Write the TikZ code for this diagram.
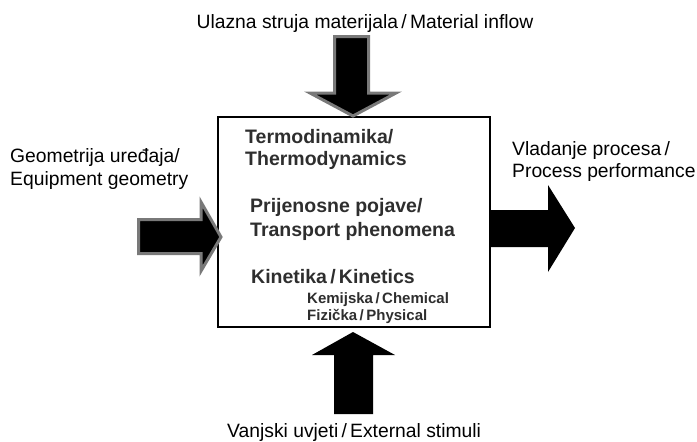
\documentclass[tikz,border=0pt]{standalone}
\usepackage{fontspec}
\setmainfont{Liberation Sans}
\begin{document}
\begin{tikzpicture}[x=1pt,y=-1pt,
  lbl/.style={inner sep=0pt,anchor=base west,font=\fontsize{19.3}{23}\selectfont,align=left},
  blbl/.style={inner sep=0pt,anchor=base west,text=black!82,font=\fontsize{19.5}{23}\selectfont\bfseries,align=left},
  slbl/.style={inner sep=0pt,anchor=base west,text=black!82,font=\fontsize{15}{17}\selectfont\bfseries},
  grayarrow/.style={fill=black,draw=gray!95!black,line width=3pt,line join=miter},
  blackarrow/.style={fill=black,draw=none}]
\useasboundingbox (0,0) rectangle (697,442);
% box
\draw[line width=2.6pt] (218,117) rectangle (490,327);
% top arrow (material inflow)
\draw[grayarrow] (334.5,36.5) -- (368.5,36.5) -- (368.5,93) -- (396,93) -- (353,116) -- (310,93) -- (334.5,93) -- cycle;
% left arrow (geometry)
\draw[grayarrow] (138.5,219.5) -- (201,219.5) -- (201,202) -- (221,237) -- (201,271) -- (201,253.5) -- (138.5,253.5) -- cycle;
% right arrow (performance)
\fill[blackarrow] (489,210) -- (548,210) -- (548,185) -- (575,228) -- (548,272) -- (548,247) -- (489,247) -- cycle;
% bottom arrow (external stimuli)
\fill[blackarrow] (334,414) -- (373,414) -- (373,355) -- (395,355) -- (353,332) -- (312,355) -- (334,355) -- cycle;
% texts
\node[lbl,anchor=base] (inflow) at (365,28) {Ulazna struja materijala\,/\,Material inflow};
\node[lbl] (geo1) at (10,162) {Geometrija uređaja/};
\node[lbl] (geo2) at (10,185) {Equipment geometry};
\node[lbl] (perf1) at (512,155) {Vladanje procesa\,/};
\node[lbl] (perf2) at (512,177) {Process performance};
\node[lbl] (stim) at (227,437) {Vanjski uvjeti\,/\,External stimuli};
\node[blbl] (thermo1) at (245,143) {Termodinamika/};
\node[blbl] (thermo2) at (245,165) {Thermodynamics};
\node[blbl] (trans1) at (250,212) {Prijenosne pojave/};
\node[blbl] (trans2) at (250,236) {Transport phenomena};
\node[blbl] (kin) at (251,283) {Kinetika\,/\,Kinetics};
\node[slbl] (chem) at (307,303) {Kemijska\,/\,Chemical};
\node[slbl] (phys) at (307,320) {Fizička\,/\,Physical};
\end{tikzpicture}
\end{document}
